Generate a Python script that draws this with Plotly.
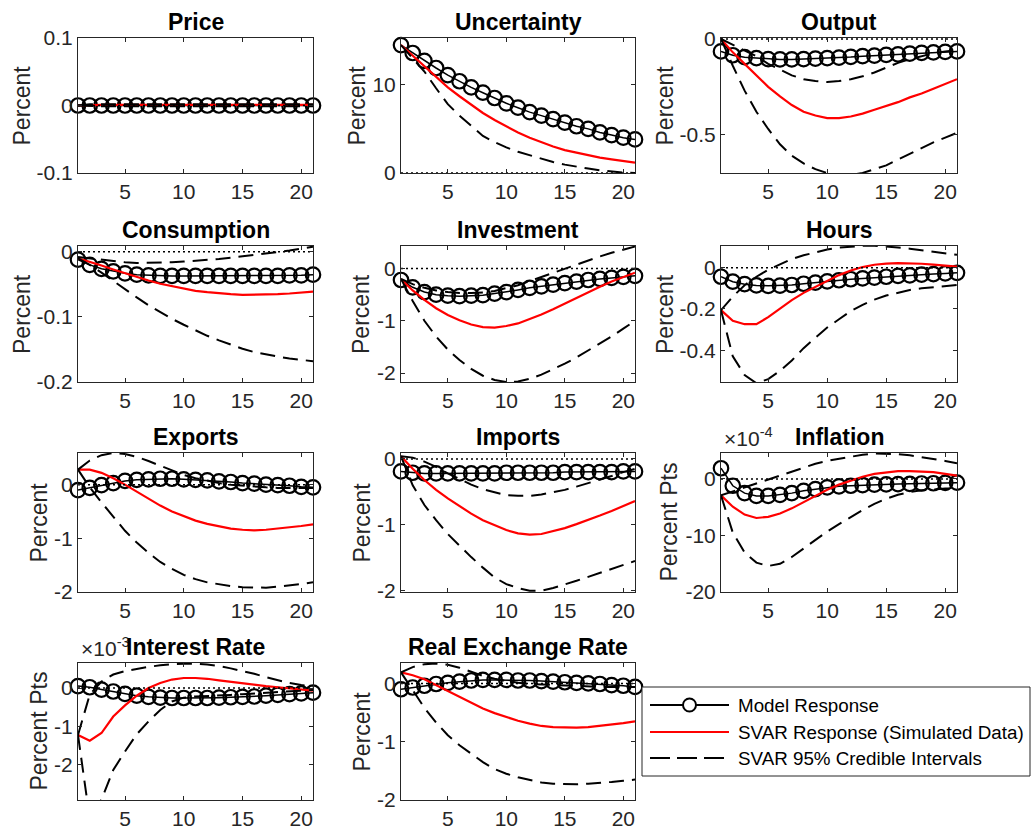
import plotly.graph_objects as go

# ---------------------------------------------------------------------------
# Impulse responses to an uncertainty shock, horizons 1..21
# ---------------------------------------------------------------------------
horizon = list(range(1, 22))

price_model = [0.0, 0.0, 0.0, 0.0, 0.0, 0.0, 0.0, 0.0, 0.0, 0.0, 0.0,
               0.0, 0.0, 0.0, 0.0, 0.0, 0.0, 0.0, 0.0, 0.0, 0.0]
price_svar = [0.0, 0.001, 0.001, 0.001, 0.001, 0.001, 0.001, 0.001, 0.001, 0.001, 0.001,
              0.001, 0.001, 0.001, 0.001, 0.001, 0.001, 0.001, 0.001, 0.001, 0.001]
price_lo = [0.0, -0.001, -0.001, -0.001, -0.001, -0.001, -0.001, -0.001, -0.001, -0.001, -0.001,
            -0.001, -0.001, -0.001, -0.001, -0.001, -0.001, -0.001, -0.001, -0.001, -0.001]
price_hi = [0.0, 0.002, 0.002, 0.002, 0.002, 0.002, 0.002, 0.002, 0.002, 0.002, 0.002,
            0.002, 0.002, 0.002, 0.002, 0.002, 0.002, 0.002, 0.002, 0.002, 0.002]

unc_model = [14.5, 13.6, 12.7, 11.9, 11.1, 10.4, 9.7, 9.1, 8.5, 7.9, 7.4,
             6.9, 6.5, 6.1, 5.7, 5.3, 5.0, 4.6, 4.3, 4.0, 3.8]
unc_svar = [14.5, 13.3, 12.1, 10.9, 9.7, 8.7, 7.7, 6.8, 6.0, 5.3, 4.6,
            4.0, 3.5, 3.0, 2.6, 2.3, 2.0, 1.75, 1.55, 1.35, 1.18]
unc_lo = [14.5, 13.0, 11.5, 9.6, 7.8, 6.5, 5.4, 4.2, 3.5, 2.9, 2.4,
          2.0, 1.6, 1.25, 0.95, 0.7, 0.5, 0.3, 0.15, 0.05, 0.0]
unc_hi = None

out_model = [-0.065, -0.085, -0.095, -0.100, -0.105, -0.107, -0.107, -0.105, -0.103, -0.100, -0.097,
             -0.094, -0.090, -0.087, -0.083, -0.080, -0.077, -0.073, -0.070, -0.067, -0.065]
out_svar = [0.0, -0.07, -0.13, -0.19, -0.25, -0.30, -0.345, -0.38, -0.40, -0.413, -0.413,
            -0.405, -0.39, -0.37, -0.35, -0.33, -0.305, -0.285, -0.26, -0.235, -0.21]
out_lo = [0.0, -0.14, -0.27, -0.38, -0.47, -0.55, -0.61, -0.65, -0.68, -0.70, -0.71,
          -0.71, -0.70, -0.68, -0.66, -0.63, -0.60, -0.57, -0.54, -0.515, -0.49]
out_hi = [0.0, -0.03, -0.06, -0.09, -0.13, -0.16, -0.19, -0.21, -0.22, -0.225, -0.22,
          -0.21, -0.195, -0.175, -0.15, -0.125, -0.105, -0.09, -0.075, -0.065, -0.06]

cons_model = [-0.012, -0.020, -0.026, -0.030, -0.033, -0.035, -0.036, -0.037, -0.037, -0.037, -0.037,
              -0.037, -0.037, -0.037, -0.037, -0.037, -0.037, -0.037, -0.036, -0.036, -0.035]
cons_svar = [-0.010, -0.015, -0.021, -0.027, -0.033, -0.039, -0.044, -0.049, -0.053, -0.057, -0.060,
             -0.062, -0.064, -0.065, -0.066, -0.066, -0.066, -0.065, -0.064, -0.063, -0.061]
cons_lo = [-0.010, -0.020, -0.032, -0.045, -0.058, -0.070, -0.082, -0.093, -0.103, -0.112, -0.121,
           -0.129, -0.136, -0.143, -0.149, -0.154, -0.158, -0.161, -0.164, -0.166, -0.168]
cons_hi = [-0.008, -0.010, -0.013, -0.015, -0.016, -0.017, -0.017, -0.017, -0.016, -0.015, -0.014,
           -0.013, -0.011, -0.009, -0.007, -0.005, -0.003, -0.001, 0.002, 0.005, 0.008]

inv_model = [-0.22, -0.36, -0.45, -0.50, -0.52, -0.53, -0.52, -0.51, -0.48, -0.45, -0.41,
             -0.37, -0.34, -0.31, -0.28, -0.25, -0.22, -0.20, -0.18, -0.16, -0.14]
inv_svar = [-0.20, -0.42, -0.60, -0.76, -0.89, -0.99, -1.07, -1.12, -1.13, -1.10, -1.05,
            -0.97, -0.88, -0.78, -0.67, -0.56, -0.45, -0.35, -0.25, -0.16, -0.08]
inv_lo = [-0.20, -0.62, -1.00, -1.30, -1.55, -1.75, -1.92, -2.05, -2.13, -2.17, -2.16,
          -2.11, -2.03, -1.93, -1.82, -1.70, -1.57, -1.44, -1.30, -1.15, -1.00]
inv_hi = [-0.20, -0.30, -0.37, -0.42, -0.45, -0.47, -0.47, -0.46, -0.43, -0.38, -0.32,
          -0.24, -0.16, -0.08, 0.00, 0.08, 0.16, 0.23, 0.30, 0.36, 0.42]

hours_model = [-0.044, -0.068, -0.080, -0.086, -0.088, -0.087, -0.084, -0.078, -0.072, -0.066, -0.061,
               -0.056, -0.052, -0.048, -0.044, -0.040, -0.037, -0.034, -0.031, -0.028, -0.025]
hours_svar = [-0.206, -0.257, -0.274, -0.274, -0.240, -0.198, -0.157, -0.122, -0.092, -0.062, -0.036,
              -0.014, 0.003, 0.014, 0.020, 0.022, 0.021, 0.019, 0.015, 0.010, 0.005]
hours_lo = [-0.206, -0.430, -0.520, -0.560, -0.540, -0.500, -0.450, -0.390, -0.340, -0.290, -0.250,
            -0.210, -0.180, -0.155, -0.135, -0.120, -0.108, -0.100, -0.094, -0.088, -0.084]
hours_hi = [-0.206, -0.140, -0.085, -0.044, -0.010, 0.018, 0.042, 0.060, 0.075, 0.088, 0.097,
            0.103, 0.106, 0.106, 0.103, 0.098, 0.092, 0.085, 0.077, 0.069, 0.062]

exp_model = [-0.10, -0.06, -0.01, 0.03, 0.07, 0.09, 0.10, 0.11, 0.11, 0.10, 0.09,
             0.08, 0.06, 0.05, 0.03, 0.02, 0.00, -0.01, -0.02, -0.04, -0.05]
exp_svar = [0.28, 0.28, 0.22, 0.12, 0.00, -0.13, -0.27, -0.39, -0.50, -0.59, -0.67,
            -0.73, -0.78, -0.82, -0.84, -0.85, -0.84, -0.82, -0.80, -0.77, -0.74]
exp_lo = [0.28, -0.05, -0.33, -0.60, -0.86, -1.08, -1.27, -1.44, -1.57, -1.68, -1.76,
          -1.82, -1.86, -1.89, -1.91, -1.92, -1.92, -1.90, -1.88, -1.85, -1.82]
exp_hi = [0.28, 0.45, 0.55, 0.59, 0.57, 0.52, 0.44, 0.35, 0.26, 0.18, 0.12,
          0.07, 0.03, 0.00, -0.02, -0.04, -0.05, -0.06, -0.06, -0.06, -0.06]

imp_model = [-0.19, -0.21, -0.22, -0.22, -0.22, -0.22, -0.22, -0.22, -0.22, -0.21, -0.21,
             -0.21, -0.21, -0.21, -0.20, -0.20, -0.20, -0.20, -0.20, -0.19, -0.19]
imp_svar = [0.04, -0.15, -0.32, -0.47, -0.60, -0.72, -0.83, -0.93, -1.01, -1.08, -1.13,
            -1.15, -1.14, -1.10, -1.05, -0.99, -0.93, -0.86, -0.79, -0.72, -0.64]
imp_lo = [0.04, -0.40, -0.70, -0.93, -1.14, -1.32, -1.49, -1.65, -1.80, -1.90, -1.96,
          -2.00, -2.00, -1.96, -1.91, -1.85, -1.79, -1.73, -1.67, -1.61, -1.55]
imp_hi = [0.04, 0.02, -0.04, -0.12, -0.22, -0.31, -0.39, -0.46, -0.51, -0.55, -0.56,
          -0.56, -0.54, -0.51, -0.47, -0.42, -0.37, -0.31, -0.26, -0.20, -0.15]

# inflation in units of 1e-4 percentage points
infl_model = [1.9, -1.2, -2.5, -3.0, -3.0, -2.8, -2.5, -2.1, -1.8, -1.5, -1.3,
              -1.2, -1.1, -1.0, -0.95, -0.9, -0.85, -0.8, -0.75, -0.7, -0.65]
infl_svar = [-2.9, -4.9, -6.3, -6.9, -6.7, -6.1, -5.2, -4.1, -2.9, -1.9, -1.0,
             -0.3, 0.4, 0.9, 1.2, 1.4, 1.4, 1.35, 1.2, 0.9, 0.6]
infl_lo = [-2.9, -9.5, -13.0, -14.8, -15.4, -15.0, -13.8, -12.3, -10.8, -9.3, -8.0,
           -6.7, -5.5, -4.4, -3.5, -2.8, -2.3, -2.0, -1.8, -1.7, -1.6]
infl_hi = [-2.9, -2.2, -1.4, -0.7, 0.0, 0.7, 1.4, 2.1, 2.7, 3.2, 3.6,
           4.0, 4.3, 4.5, 4.5, 4.4, 4.2, 3.9, 3.6, 3.2, 2.8]

# interest rate in units of 1e-3 percentage points
rate_model = [0.05, 0.02, -0.04, -0.09, -0.15, -0.20, -0.23, -0.25, -0.26, -0.26, -0.26,
              -0.26, -0.25, -0.24, -0.23, -0.22, -0.20, -0.18, -0.16, -0.14, -0.12]
rate_svar = [-1.22, -1.37, -1.17, -0.74, -0.45, -0.20, 0.00, 0.13, 0.22, 0.26, 0.26,
             0.24, 0.20, 0.16, 0.12, 0.08, 0.05, 0.02, -0.01, -0.04, -0.07]
rate_lo = [-1.22, -3.40, -2.90, -2.13, -1.65, -1.20, -0.87, -0.57, -0.35, -0.25, -0.22,
           -0.21, -0.20, -0.18, -0.16, -0.14, -0.12, -0.10, -0.08, -0.06, -0.05]
rate_hi = [-1.22, -0.17, 0.17, 0.35, 0.44, 0.50, 0.55, 0.59, 0.62, 0.63, 0.63,
           0.61, 0.57, 0.51, 0.44, 0.37, 0.28, 0.20, 0.13, 0.08, 0.04]

rer_model = [-0.10, -0.07, -0.04, -0.01, 0.01, 0.03, 0.05, 0.06, 0.06, 0.06, 0.05,
             0.05, 0.04, 0.03, 0.02, 0.01, 0.00, -0.01, -0.03, -0.04, -0.06]
rer_svar = [0.19, 0.14, 0.07, -0.03, -0.13, -0.24, -0.34, -0.43, -0.51, -0.58, -0.64,
            -0.69, -0.73, -0.75, -0.76, -0.76, -0.75, -0.73, -0.71, -0.68, -0.65]
rer_lo = [0.19, -0.12, -0.42, -0.67, -0.89, -1.06, -1.21, -1.35, -1.47, -1.55, -1.61,
          -1.66, -1.70, -1.72, -1.73, -1.73, -1.72, -1.71, -1.69, -1.67, -1.65]
rer_hi = [0.19, 0.28, 0.33, 0.34, 0.32, 0.27, 0.20, 0.13, 0.08, 0.04, 0.01,
          -0.01, -0.02, -0.03, -0.04, -0.05, -0.05, -0.06, -0.06, -0.06, -0.06]

titles = ["Price", "Uncertainty", "Output", "Consumption", "Investment", "Hours",
          "Exports", "Imports", "Inflation", "Interest Rate", "Real Exchange Rate"]
ylabels = ["Percent", "Percent", "Percent", "Percent", "Percent", "Percent",
           "Percent", "Percent", "Percent Pts", "Percent Pts", "Percent"]
model_series = [price_model, unc_model, out_model, cons_model, inv_model, hours_model,
                exp_model, imp_model, infl_model, rate_model, rer_model]
svar_series = [price_svar, unc_svar, out_svar, cons_svar, inv_svar, hours_svar,
               exp_svar, imp_svar, infl_svar, rate_svar, rer_svar]
lower_series = [price_lo, unc_lo, out_lo, cons_lo, inv_lo, hours_lo,
                exp_lo, imp_lo, infl_lo, rate_lo, rer_lo]
upper_series = [price_hi, unc_hi, out_hi, cons_hi, inv_hi, hours_hi,
                exp_hi, imp_hi, infl_hi, rate_hi, rer_hi]
y_ticks = [[-0.1, 0, 0.1], [0, 10], [-0.5, 0], [-0.2, -0.1, 0], [-2, -1, 0], [-0.4, -0.2, 0],
           [-2, -1, 0], [-2, -1, 0], [-20, -10, 0], [-2, -1, 0], [-2, -1, 0]]
y_ticktext = [["-0.1", "0", "0.1"], ["0", "10"], ["-0.5", "0"], ["-0.2", "-0.1", "0"],
              ["-2", "-1", "0"], ["-0.4", "-0.2", "0"], ["-2", "-1", "0"], ["-2", "-1", "0"],
              ["-20", "-10", "0"], ["-2", "-1", "0"], ["-2", "-1", "0"]]
y_exponent = [None, None, None, None, None, None, None, None, "-4", "-3", None]
x_ticks = [5, 10, 15, 20]

legend_labels = ["Model Response", "SVAR Response (Simulated Data)", "SVAR 95% Credible Intervals"]

# ---------------------------------------------------------------------------
# Layout geometry (pixels) and styling
# ---------------------------------------------------------------------------
W, H = 1032, 831
FONT = "Liberation Sans, Arial, Helvetica, sans-serif"
INK = "#262626"
TICK_SIZE = 21
LABEL_SIZE = 23
TITLE_SIZE = 23
LEGEND_SIZE = 18.8

col_px = [(78, 313), (401, 635), (721, 957)]
row_px = [(38, 173), (246, 382), (453, 592), (663, 800)]
y_ranges = [[-0.1, 0.1], [0, 15.3], [-0.70, 0.005], [-0.2, 0.009], [-2.17, 0.43],
            [-0.554, 0.105], [-2.0, 0.59], [-2.02, 0.09], [-20, 4.6], [-2.91, 0.65],
            [-2.0, 0.35]]
ylabel_x = [22, 357, 665, 22, 361, 665, 38, 361, 668, 38, 361]

DASH = "15px,8px"
DOT = "2px,3px"


def px_x(v):
    return v / W


def px_y(v):
    return 1 - v / H


fig = go.Figure()
annotations = []
shapes = []

for i, title in enumerate(titles):
    r, c = divmod(i, 3)
    n = "" if i == 0 else str(i + 1)
    xa, ya = "x" + n, "y" + n
    (x0, x1), (y0, y1) = col_px[c], row_px[r]

    fig.add_trace(go.Scatter(
        x=horizon, y=model_series[i], xaxis=xa, yaxis=ya, mode="lines+markers",
        line=dict(color="black", width=1.5),
        marker=dict(symbol="circle-open", size=14.5, color="black", line=dict(width=2.2, color="black")),
        cliponaxis=False, showlegend=False, hoverinfo="skip"))
    fig.add_trace(go.Scatter(
        x=horizon, y=svar_series[i], xaxis=xa, yaxis=ya, mode="lines",
        line=dict(color="#ff0000", width=2.2), showlegend=False, hoverinfo="skip"))
    for band in (lower_series[i], upper_series[i]):
        if band is None:
            continue
        fig.add_trace(go.Scatter(
            x=horizon, y=band, xaxis=xa, yaxis=ya, mode="lines",
            line=dict(color="black", width=2, dash=DASH), showlegend=False, hoverinfo="skip"))
    fig.add_trace(go.Scatter(
        x=[horizon[0], horizon[-1]], y=[0, 0], xaxis=xa, yaxis=ya, mode="lines",
        line=dict(color="black", width=1.5, dash=DOT), showlegend=False, hoverinfo="skip"))

    axis_style = dict(
        showline=True, linecolor=INK, linewidth=1, mirror="ticks",
        ticks="inside", ticklen=4, tickwidth=1, tickcolor=INK,
        showgrid=False, zeroline=False, automargin=False,
        tickfont=dict(family=FONT, size=TICK_SIZE, color=INK),
    )
    fig.update_layout(**{
        ("xaxis" + n): dict(domain=[px_x(x0), px_x(x1)], range=[1, 21], anchor=ya,
                            tickmode="array", tickvals=x_ticks,
                            ticktext=[str(t) for t in x_ticks], **axis_style),
        ("yaxis" + n): dict(domain=[px_y(y1), px_y(y0)], range=y_ranges[i], anchor=xa,
                            tickmode="array", tickvals=y_ticks[i], ticktext=y_ticktext[i],
                            **axis_style),
    })

    if y_exponent[i]:
        annotations.append(dict(
            xref="paper", yref="paper", x=px_x(x0 + 1), y=px_y(y0 - 1),
            xanchor="left", yanchor="bottom", showarrow=False,
            text="\u00d710<sup>" + y_exponent[i] + "</sup>",
            font=dict(family=FONT, size=TICK_SIZE, color=INK)))
    annotations.append(dict(
        xref="paper", yref="paper", x=px_x((x0 + x1) / 2), y=px_y(y0 - 16),
        xanchor="center", yanchor="middle", showarrow=False,
        text="<b>" + title + "</b>", font=dict(family=FONT, size=TITLE_SIZE, color="black")))
    annotations.append(dict(
        xref="paper", yref="paper", x=px_x(ylabel_x[i]), y=px_y((y0 + y1) / 2),
        xanchor="center", yanchor="middle", showarrow=False, textangle=-90,
        text=ylabels[i], font=dict(family=FONT, size=LABEL_SIZE, color=INK)))

# Legend box drawn in the empty twelfth slot
lg_left, lg_right, lg_top, lg_bottom = 642, 1030, 687, 776
row_y = [705, 732, 758]
sample_x0, sample_x1, text_x = 650, 729, 736
shapes.append(dict(type="rect", xref="paper", yref="paper",
                   x0=px_x(lg_left), x1=px_x(lg_right), y0=px_y(lg_bottom), y1=px_y(lg_top),
                   line=dict(color=INK, width=1), fillcolor="white", layer="above"))
sample_styles = [dict(color="black", width=2), dict(color="#ff0000", width=2.2),
                 dict(color="black", width=2, dash="20px,7px")]
for k, label in enumerate(legend_labels):
    shapes.append(dict(type="line", xref="paper", yref="paper",
                       x0=px_x(sample_x0), x1=px_x(sample_x1), y0=px_y(row_y[k]), y1=px_y(row_y[k]),
                       line=sample_styles[k], layer="above"))
    annotations.append(dict(
        xref="paper", yref="paper", x=px_x(text_x), y=px_y(row_y[k]),
        xanchor="left", yanchor="middle", showarrow=False, text=label,
        font=dict(family=FONT, size=LEGEND_SIZE, color="black")))
cx, rad = (sample_x0 + sample_x1) / 2, 6.5
shapes.append(dict(type="circle", xref="paper", yref="paper",
                   x0=px_x(cx - rad), x1=px_x(cx + rad),
                   y0=px_y(row_y[0] + rad), y1=px_y(row_y[0] - rad),
                   line=dict(color="black", width=2), fillcolor="white", layer="above"))

fig.update_layout(
    template="none",
    width=W, height=H, margin=dict(l=0, r=0, t=0, b=0, pad=0, autoexpand=False),
    paper_bgcolor="white", plot_bgcolor="white",
    font=dict(family=FONT, color=INK),
    annotations=annotations, shapes=shapes, showlegend=False,
)

fig.write_html("out.html")
